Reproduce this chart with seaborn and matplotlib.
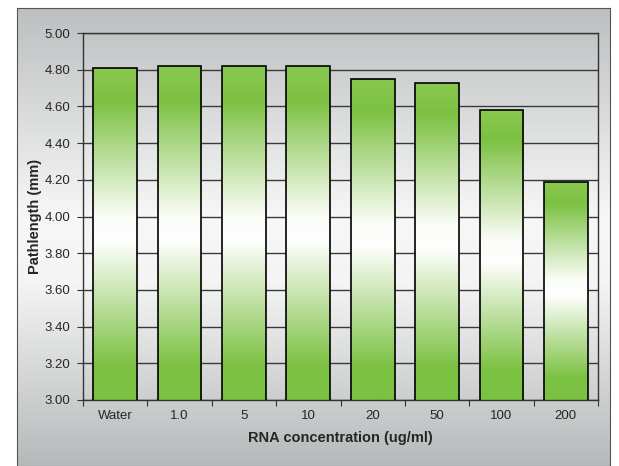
import numpy as np
import pandas as pd

import matplotlib
matplotlib.use("Agg")

import matplotlib.pyplot as plt
from matplotlib.colors import LinearSegmentedColormap
import seaborn as sns

# données
concentrations = ["Water", "1.0", "5", "10", "20", "50", "100", "200"]
pathlength = [4.81, 4.82, 4.82, 4.82, 4.75, 4.73, 4.58, 4.19]

df = pd.DataFrame({"conc": concentrations, "path": pathlength})

sns.set_theme(style="white")
plt.rcParams['font.family'] = ['Liberation Sans', 'DejaVu Sans']

fig = plt.figure(figsize=(6.19, 4.66), dpi=100)
fig.patch.set_facecolor("white")

# fond dégradé gris -> blanc -> gris
bg = fig.add_axes([17 / 619, 0, (610 - 17) / 619, (466 - 8) / 466], zorder=0)
bg_cmap = LinearSegmentedColormap.from_list(
    "bg", [(0, "#bcbfc0"), (0.46, "#f7f7f7"), (0.6, "#f4f4f4"), (1, "#b6b9ba")])
bg.imshow(np.linspace(0, 1, 256).reshape(-1, 1), aspect="auto", cmap=bg_cmap,
          extent=[0, 1, 1, 0])
bg.set_xticks([])
bg.set_yticks([])
for s in bg.spines.values():
    s.set_color("#555555")
    s.set_linewidth(0.8)

ax = fig.add_axes([83 / 619, 1 - 400 / 466, (598 - 83) / 619, (400 - 33) / 466], zorder=1)
ax.set_facecolor("none")

sns.barplot(data=df, x="conc", y="path", ax=ax, width=0.68, color="#7cc142",
            edgecolor="black", linewidth=1.2, zorder=3)
ax.set_ylim(3.0, 5.0)

# dégradé vert -> blanc -> vert dans chaque barre
bar_cmap = LinearSegmentedColormap.from_list(
    "bar", [(0, "#7bc142"), (0.1, "#7cc142"), (0.48, "#ffffff"), (0.55, "#fbfdf8"),
            (0.9, "#7cc142"), (1, "#8ac850")])
grad = np.linspace(0, 1, 256).reshape(-1, 1)
for p in ax.patches:
    x0, y0 = p.get_x(), p.get_y()
    w, h = p.get_width(), p.get_height()
    y_bottom = 3.0
    im = ax.imshow(grad, aspect="auto", cmap=bar_cmap, origin="lower",
                   extent=[x0, x0 + w, y_bottom, y0 + h], zorder=2.5)
    im.set_clip_path(p)
    p.set_facecolor("none")
ax.set_xlim(-0.5, len(concentrations) - 0.5)
ax.set_ylim(3.0, 5.0)

ax.set_yticks(np.arange(3.0, 5.01, 0.2))
ax.set_yticklabels([f"{v:.2f}" for v in np.arange(3.0, 5.01, 0.2)])
ax.yaxis.grid(True, color="#3a3a3a", linewidth=1.0)
ax.set_axisbelow(True)
ax.tick_params(axis="y", which="major", direction="out", length=4, width=0.8,
               color="#333333", labelsize=9.5, pad=5, left=True)
ax.set_xticks(range(len(concentrations)))
ax.set_xticks(np.arange(-0.5, len(concentrations), 1), minor=True)
ax.tick_params(axis="x", which="major", length=0, labelsize=9.5, pad=7)
ax.tick_params(axis="x", which="minor", direction="out", length=4, width=0.8,
               color="#333333", bottom=True)
for s in ax.spines.values():
    s.set_color("#333333")
    s.set_linewidth(1.0)

ax.set_xlabel("RNA concentration (ug/ml)", fontsize=10.5, fontweight="bold", labelpad=7)
ax.set_ylabel("Pathlength (mm)", fontsize=10.5, fontweight="bold", labelpad=2)

fig.savefig("out.png", dpi=100)
plt.close()
